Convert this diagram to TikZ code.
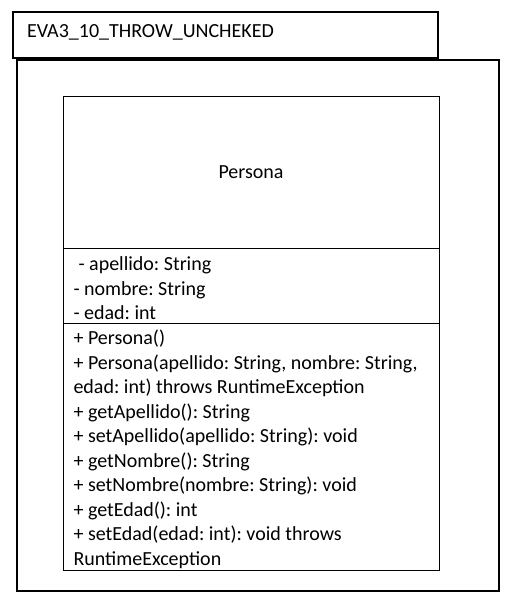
\documentclass[tikz,border=0pt]{standalone}
\usepackage{fontspec}
\setmainfont{Carlito}
\usepackage{tikz}
\usetikzlibrary{positioning}

\begin{document}
\frenchspacing
\begin{tikzpicture}[x=1pt, y=-1pt,
		frame/.style={draw, line width=2.2pt, inner sep=0pt, anchor=north west},
		part/.style={draw, line width=0.8pt, minimum width=376pt, inner sep=0pt, outer sep=0pt},
		members/.style={align=left, anchor=west, yshift=-3pt},
		every node/.append style={font=\fontsize{20}{24.5}\selectfont}
	]

	\useasboundingbox (0,0) rectangle (513,601);

	% package tab and frame
	\node[frame, minimum width=425pt, minimum height=46pt] (tab) at (12,11) {};
	\node[anchor=west] (tabname) at (23.5,32) {EVA3\_10\_THROW\_UNCHEKED};
	\node[frame, minimum width=482pt, minimum height=531pt] (pkg) at (16,59) {};

	% class Persona: three compartments
	\node[part, minimum height=152pt, anchor=north west] (persona) at (63,96) {Persona};
	\node[part, minimum height=75pt, below=0pt of persona] (attrs) {};
	\node[part, minimum height=247pt, below=0pt of attrs] (ops) {};

	% attributes and operations
	\node[members, right=7pt of attrs.west] (attrtext) {%
		\hspace{5pt}- apellido: String\\
		- nombre: String\\
		- edad: int};
	\node[members, right=7pt of ops.west] (optext) {%
		+ Persona()\\
		+ Persona(apellido: String, nombre: String,\\
		edad: int) throws RuntimeException\\
		+ getApellido(): String\\
		+ setApellido(apellido: String): void\\
		+ getNombre(): String\\
		+ setNombre(nombre: String): void\\
		+ getEdad(): int\\
		+ setEdad(edad: int): void throws\\
		RuntimeException};

\end{tikzpicture}
\end{document}
